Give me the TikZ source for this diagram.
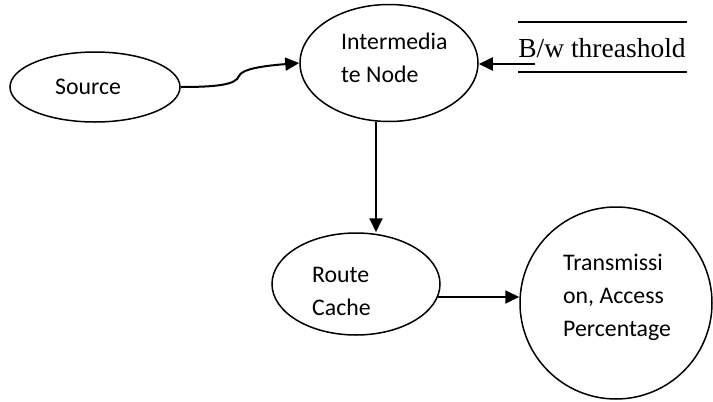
\documentclass[tikz,border=0pt]{standalone}
\usepackage{fontspec}
\setmainfont{Carlito}
\newfontfamily\timesfont{Liberation Serif}
\usetikzlibrary{shapes.geometric,arrows.meta}
\begin{document}
\begin{tikzpicture}[x=1pt,y=-1pt,
  bubble/.style={draw, line width=1.5pt, ellipse, inner sep=0pt},
  lbl/.style={font=\fontsize{23.8}{33}\selectfont, align=left, anchor=west, inner sep=0pt},
  arr/.style={line width=2pt, -{Triangle[length=14pt,width=13pt]}},
  rule/.style={line width=1.5pt}]
\useasboundingbox (0,0) rectangle (713,402);
% shapes
\node[bubble, minimum width=170pt, minimum height=70pt] (src) at (95,87) {};
\node[bubble, minimum width=178pt, minimum height=117pt] (inter) at (389,63) {};
\node[bubble, minimum width=168pt, minimum height=102pt] (rc) at (356,284) {};
\node[bubble, circle, minimum size=192pt] (tc) at (616,303) {};
% texts
\node[lbl] (srct) at (55,87) {Source};
\node[lbl] (intert) at (341,58) {Intermedia\\te Node};
\node[lbl] (rct) at (312,291) {Route\\Cache};
\node[lbl] (tct) at (563,297) {Transmissi\\on, Access\\Percentage};
% bandwidth store
\coordinate (bl1) at (518,22);
\coordinate (br1) at (687,22);
\coordinate (bl2) at (518,72);
\coordinate (br2) at (687,72);
\draw[rule] (bl1) -- (br1);
\draw[rule] (bl2) -- (br2);
\node[font=\timesfont\fontsize{27.5}{30}\selectfont, inner sep=0pt] (bw) at (602,48) {B/w threashold};
\coordinate (bwa) at (535,64);
% connectors
\coordinate (bump) at (239,76);
\draw[arr] (src.east) .. controls (215,87) and (236,85) .. (bump)
  .. controls (242,69) and (262,66) .. (inter.west);
\draw[arr] (bwa) -- (bwa -| inter.east);
\draw[arr] ([xshift=-13pt]inter.south) -- ([xshift=20pt]rc.north);
\draw[arr] (rc.-9) -- (rc.-9 -| tc.west);
\end{tikzpicture}
\end{document}
